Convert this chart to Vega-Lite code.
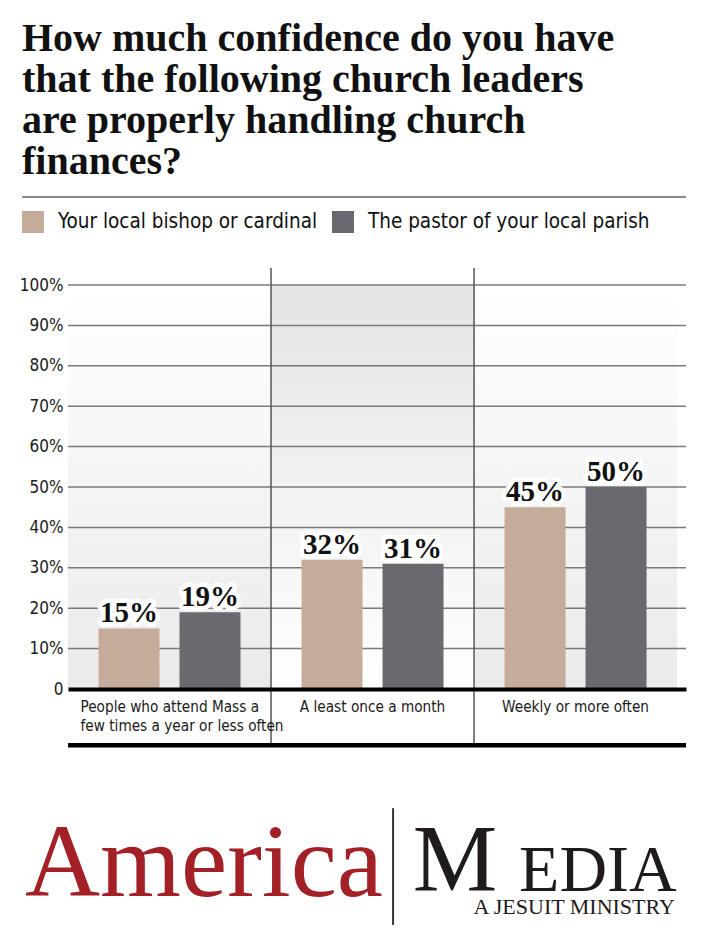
{
  "$schema": "https://vega.github.io/schema/vega-lite/v6.json",
  "autosize": {"type": "none"},
  "width": 618,
  "height": 404,
  "padding": {"left": 68, "top": 285, "right": 17, "bottom": 247},
  "background": "white",
  "config": {"view": {"stroke": null}},
  "title": {
    "text": ["How much confidence do you have", "that the following church leaders", "are properly handling church", "finances?"],
    "anchor": "start",
    "frame": "group",
    "dx": -46,
    "offset": 14,
    "font": "Liberation Serif",
    "fontSize": 40,
    "fontWeight": "bold",
    "lineHeight": 41,
    "color": "#111111"
  },
  "datasets": {
    "survey": [
      {"category": "People who attend Mass a few times a year or less often", "series": "Your local bishop or cardinal", "value": 15},
      {"category": "People who attend Mass a few times a year or less often", "series": "The pastor of your local parish", "value": 19},
      {"category": "A least once a month", "series": "Your local bishop or cardinal", "value": 32},
      {"category": "A least once a month", "series": "The pastor of your local parish", "value": 31},
      {"category": "Weekly or more often", "series": "Your local bishop or cardinal", "value": 45},
      {"category": "Weekly or more often", "series": "The pastor of your local parish", "value": 50}
    ],
    "ticks": [{"v": 10}, {"v": 20}, {"v": 30}, {"v": 40}, {"v": 50}, {"v": 60}, {"v": 70}, {"v": 80}, {"v": 90}, {"v": 100}]
  },
  "resolve": {"scale": {"x": "independent"}},
  "layer": [
    {
      "data": {"name": "survey"},
      "encoding": {
        "y": {
          "type": "quantitative",
          "scale": {"domain": [0, 100], "nice": false},
          "axis": {
            "title": null,
            "values": [0, 10, 20, 30, 40, 50, 60, 70, 80, 90, 100],
            "grid": false,
            "ticks": false,
            "domain": false,
            "labelFont": "DejaVu Sans Condensed, Roboto",
            "labelFontSize": 17,
            "labelColor": "#1a1a1a",
            "labelPadding": 5,
            "labelExpr": "datum.value == 0 ? '0' : datum.value + '%'"
          }
        }
      },
      "layer": [
        {
          "transform": [
            {"filter": "datum.series == 'Your local bishop or cardinal' && datum.category != 'A least once a month'"}
          ],
          "mark": {
            "type": "rect",
            "color": {"gradient": "linear", "x1": 0, "y1": 0, "x2": 0, "y2": 1, "stops": [{"offset": 0, "color": "#ffffff"}, {"offset": 1, "color": "#eaeaea"}]}
          },
          "encoding": {
            "x": {"field": "category", "type": "nominal"},
            "y": {"datum": 100},
            "y2": {"datum": 0}
          }
        },
        {
          "transform": [
            {"filter": "datum.series == 'Your local bishop or cardinal' && datum.category == 'A least once a month'"}
          ],
          "mark": {
            "type": "rect",
            "color": {"gradient": "linear", "x1": 0, "y1": 0, "x2": 0, "y2": 1, "stops": [{"offset": 0, "color": "#e4e4e4"}, {"offset": 1, "color": "#ffffff"}]}
          },
          "encoding": {
            "x": {"field": "category", "type": "nominal"},
            "y": {"datum": 100},
            "y2": {"datum": 0}
          }
        },
        {
          "data": {"name": "ticks"},
          "mark": {"type": "rule", "color": "#7a7a7a", "strokeWidth": 1.5},
          "encoding": {"y": {"field": "v", "type": "quantitative"}}
        },
        {
          "transform": [
            {"filter": "datum.series == 'Your local bishop or cardinal' && datum.category != 'People who attend Mass a few times a year or less often'"}
          ],
          "mark": {"type": "rule", "color": "#555555", "strokeWidth": 1.5},
          "encoding": {
            "x": {"field": "category", "type": "nominal", "bandPosition": 0},
            "y": {"datum": 104.2},
            "y2": {"datum": -13.9}
          }
        },
        {
          "mark": {"type": "bar"},
          "encoding": {
            "x": {
              "field": "category",
              "type": "nominal",
              "scale": {
                "domain": ["People who attend Mass a few times a year or less often", "A least once a month", "Weekly or more often"],
                "paddingInner": 0,
                "paddingOuter": 0.022,
                "align": 0
              },
              "axis": {
                "title": null,
                "orient": "bottom",
                "ticks": false,
                "domain": true,
                "domainColor": "#000000",
                "domainWidth": 4,
                "zindex": 1,
                "labelFont": "DejaVu Sans Condensed, Roboto",
                "labelFontSize": 15.2,
                "labelColor": "#1a1a1a",
                "labelBaseline": "top",
                "labelPadding": 10,
                "labelLineHeight": 19,
                "labelAngle": 0,
                "labelLimit": 300,
                "labelExpr": "datum.value == 'People who attend Mass a few times a year or less often' ? ['People who attend Mass a', 'few times a year or less often'] : datum.value",
                "labelAlign": {"condition": {"test": "datum.value == 'People who attend Mass a few times a year or less often'", "value": "left"}, "value": "center"},
                "labelOffset": {"condition": {"test": "datum.value == 'People who attend Mass a few times a year or less often'", "value": -89}, "value": 0}
              }
            },
            "xOffset": {"field": "series", "type": "nominal", "sort": ["Your local bishop or cardinal", "The pastor of your local parish"], "scale": {"paddingInner": 0.247, "paddingOuter": 0.377}},
            "y": {"field": "value", "type": "quantitative"},
            "color": {
              "field": "series",
              "type": "nominal",
              "sort": ["Your local bishop or cardinal", "The pastor of your local parish"],
              "scale": {"domain": ["Your local bishop or cardinal", "The pastor of your local parish"], "range": ["#c4ab9a", "#69696f"]},
              "legend": {
                "title": null,
                "orient": "none",
                "direction": "horizontal",
                "legendX": -46,
                "legendY": -74,
                "symbolType": "square",
                "symbolSize": 484,
                "symbolStrokeWidth": 0,
                "symbolOpacity": 1,
                "labelFont": "DejaVu Sans Condensed, Roboto",
                "labelFontSize": 20.5,
                "labelColor": "#111111",
                "labelOffset": 14,
                "columnPadding": 14,
                "labelLimit": 400
              }
            }
          }
        },
        {
          "mark": {"type": "text", "font": "Liberation Serif", "fontWeight": "bold", "fontSize": 29, "baseline": "alphabetic", "dy": -6, "color": "#ffffff", "stroke": "#ffffff", "strokeWidth": 9, "strokeJoin": "round", "text": {"expr": "datum.value + '%'"}},
          "encoding": {
            "x": {"field": "category", "type": "nominal"},
            "xOffset": {"field": "series", "type": "nominal", "sort": ["Your local bishop or cardinal", "The pastor of your local parish"]},
            "y": {"field": "value", "type": "quantitative"}
          }
        },
        {
          "mark": {"type": "text", "font": "Liberation Serif", "fontWeight": "bold", "fontSize": 29, "baseline": "alphabetic", "dy": -6, "color": "#111111", "text": {"expr": "datum.value + '%'"}},
          "encoding": {
            "x": {"field": "category", "type": "nominal"},
            "xOffset": {"field": "series", "type": "nominal", "sort": ["Your local bishop or cardinal", "The pastor of your local parish"]},
            "y": {"field": "value", "type": "quantitative"}
          }
        },
        {
          "transform": [
            {"filter": "datum.series == 'Your local bishop or cardinal' && datum.category == 'A least once a month'"}
          ],
          "mark": {"type": "rule", "color": "#000000", "strokeWidth": 4.5},
          "encoding": {"y": {"datum": -13.9}}
        }
      ]
    },
    {
      "data": {"values": [{"label": "America Media"}]},
      "encoding": {
        "x": {"type": "quantitative", "scale": {"domain": [0, 100], "nice": false}, "axis": null}
      },
      "layer": [
        {
          "mark": {"type": "rule", "color": "#666666", "strokeWidth": 1.5},
          "encoding": {"x": {"datum": -7.44}, "x2": {"datum": 100}, "y": {"datum": 121.8}}
        },
        {
          "mark": {"type": "text", "text": "America", "font": "Liberation Serif", "fontSize": 104, "color": "#a32126", "align": "left", "baseline": "alphabetic"},
          "encoding": {"x": {"datum": -6.96}, "y": {"datum": -51.2}}
        },
        {
          "mark": {"type": "rule", "color": "#333333", "strokeWidth": 2},
          "encoding": {"x": {"datum": 52.6}, "y": {"datum": -29.5}, "y2": {"datum": -58.4}}
        },
        {
          "mark": {"type": "text", "text": "M", "font": "Liberation Serif", "fontSize": 95, "color": "#1f1b1c", "align": "left", "baseline": "alphabetic"},
          "encoding": {"x": {"datum": 55.8}, "y": {"datum": -50.0}}
        },
        {
          "mark": {"type": "text", "text": "EDIA", "font": "Liberation Serif", "fontSize": 66, "color": "#1f1b1c", "align": "right", "baseline": "alphabetic"},
          "encoding": {"x": {"datum": 98.5}, "y": {"datum": -50.0}}
        },
        {
          "mark": {"type": "text", "text": "A JESUIT MINISTRY", "font": "Liberation Serif", "fontSize": 22, "color": "#1f1b1c", "align": "right", "baseline": "alphabetic"},
          "encoding": {"x": {"datum": 98.2}, "y": {"datum": -55.7}}
        }
      ]
    }
  ]
}
